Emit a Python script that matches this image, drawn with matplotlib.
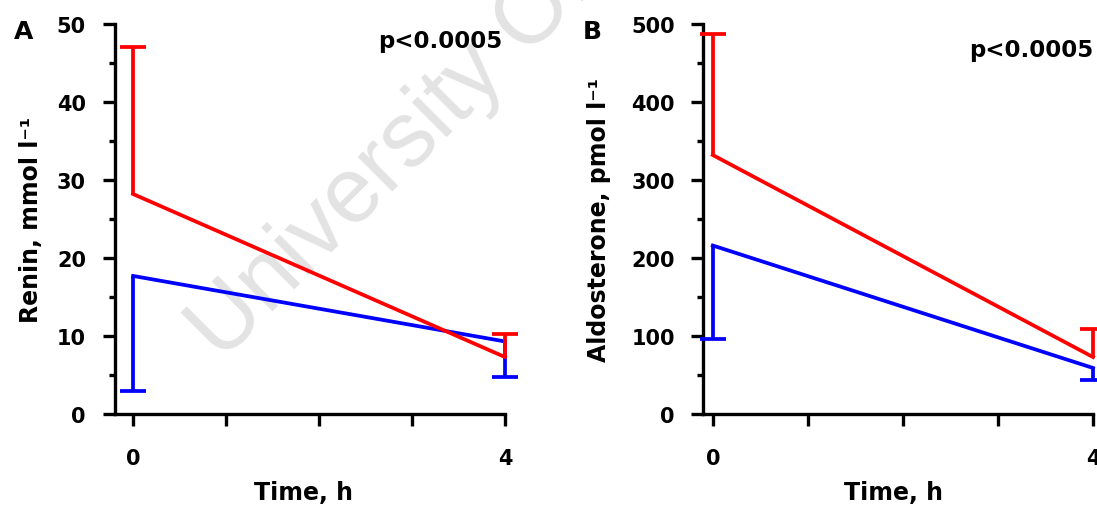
import numpy as np
import matplotlib
matplotlib.use('Agg')
import matplotlib.pyplot as plt
from matplotlib.ticker import MultipleLocator

# time points (h) and group means / one-sided SD
time_h = [0, 4]

renin_red = [28.2, 7.3]
renin_red_sd = [18.9, 3.0]
renin_blue = [17.7, 9.3]
renin_blue_sd = [14.8, 4.5]

aldo_red = [332, 73]
aldo_red_sd = [155, 36]
aldo_blue = [216, 59]
aldo_blue_sd = [120, 16]

RED = '#ff0000'
BLUE = '#0000ff'
LW = 2.7

plt.rcParams['font.family'] = ['DejaVu Sans']
plt.rcParams['font.weight'] = 'bold'
plt.rcParams['axes.labelweight'] = 'bold'

W, H = 1097, 506
fig = plt.figure(figsize=(W / 100, H / 100), dpi=100)


def draw_panel(ax, red, red_sd, blue, blue_sd, ymax, ystep, xmin, ylabel):
    # blue bars hang down, red bars go up; red drawn on top
    for mean, sd, color, sign in [(blue, blue_sd, BLUE, -1), (red, red_sd, RED, 1)]:
        mean = np.asarray(mean, dtype=float)
        end = mean + sign * np.asarray(sd, dtype=float)
        ax.plot(time_h, mean, color=color, lw=LW, zorder=3, clip_on=False)
        ax.vlines(time_h, mean, end, color=color, lw=LW, zorder=3, clip_on=False)
        ax.plot(time_h, end, ls='none', marker='_', ms=18.7, mew=LW,
                color=color, zorder=3, clip_on=False)

    ax.set_facecolor('none')
    ax.set_xlim(xmin, 4)
    ax.set_ylim(0, ymax)
    for s in ['top', 'right']:
        ax.spines[s].set_visible(False)
    for s in ['left', 'bottom']:
        ax.spines[s].set_linewidth(2.4)

    ax.set_xticks([0, 1, 2, 3, 4])
    ax.set_xticklabels(['0', '', '', '', '4'])
    ax.set_yticks(np.arange(0, ymax + 1, ystep))
    ax.yaxis.set_minor_locator(MultipleLocator(ystep / 2))
    ax.tick_params(which='major', length=8.6, width=2.4, labelsize=15)
    ax.tick_params(which='minor', length=4.3, width=2.4)
    ax.tick_params(axis='y', which='major', pad=12)
    ax.tick_params(axis='x', which='major', pad=16)

    ax.set_xlabel('Time, h', fontsize=17)
    ax.set_ylabel(ylabel, fontsize=17)


ax1 = fig.add_axes([114.5 / W, 1 - 415 / H, 390.5 / W, 390 / H])
draw_panel(ax1, renin_red, renin_red_sd, renin_blue, renin_blue_sd,
           50, 10, -0.2, 'Renin, mmol l⁻¹')
ax1.xaxis.set_label_coords(0.485, -0.17)
ax1.yaxis.set_label_coords(-0.183, 0.5)
ax1.text(0.992, 0.941, 'p<0.0005', transform=ax1.transAxes,
         ha='right', va='baseline', fontsize=16.5)

ax2 = fig.add_axes([703.3 / W, 1 - 415 / H, 389.7 / W, 390 / H])
draw_panel(ax2, aldo_red, aldo_red_sd, aldo_blue, aldo_blue_sd,
           500, 100, -0.1, 'Aldosterone, pmol l⁻¹')
ax2.xaxis.set_label_coords(0.489, -0.17)
ax2.yaxis.set_label_coords(-0.236, 0.5)
ax2.text(1.0, 0.918, 'p<0.0005', transform=ax2.transAxes,
         ha='right', va='baseline', fontsize=16.5)

fig.text(14 / W, 1 - 39.3 / H, 'A', fontsize=18, ha='left', va='baseline')
fig.text(583 / W, 1 - 39.3 / H, 'B', fontsize=18, ha='left', va='baseline')

# light diagonal watermark behind both panels
fig.text(222 / W, 1 - 363 / H, 'University Of Cape Town', rotation=45,
         rotation_mode='anchor', ha='left', va='baseline', fontsize=66.5,
         family='Liberation Sans', weight='normal', color='#e3e3e3', zorder=-1)

fig.savefig('out.png', dpi=100)
